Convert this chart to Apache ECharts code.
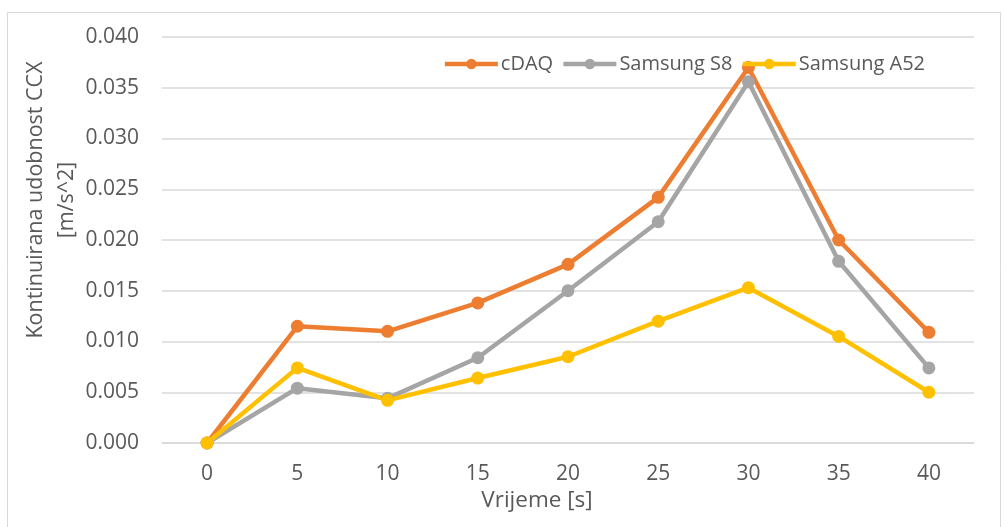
<!DOCTYPE html>
<html>
<head>
<meta charset="utf-8">
<script src="https://cdn.jsdelivr.net/npm/echarts@6/dist/echarts.min.js"></script>
<style>
  html, body { margin: 0; padding: 0; background: #fff; }
  #chart { width: 1006px; height: 527px; }
</style>
</head>
<body>
<div id="chart"></div>
<script>
// vrijeme [s]
const categories = ["0", "5", "10", "15", "20", "25", "30", "35", "40"];
const cdaq = [0, 0.0115, 0.0110, 0.0138, 0.0176, 0.0242, 0.0370, 0.0200, 0.0109];
const samsungS8 = [0, 0.0054, 0.0044, 0.0084, 0.0150, 0.0218, 0.0356, 0.0179, 0.0074];
const samsungA52 = [0, 0.0074, 0.0042, 0.0064, 0.0085, 0.0120, 0.0153, 0.0105, 0.0050];

const textColor = "#595959";
const font = "'Open Sans', 'Liberation Sans', sans-serif";

function lineSeries(name, data, color) {
  return {
    name: name,
    type: "line",
    data: data,
    symbol: "circle",
    symbolSize: 13,
    lineStyle: { width: 4.5, color: color },
    itemStyle: { color: color },
    emphasis: { disabled: true },
  };
}

const opt = {
  animation: false,
  textStyle: { fontFamily: font },
  color: ["#ED7D31", "#A5A5A5", "#FFC000"],
  grid: { left: 162, right: 32, top: 37, bottom: 84 },
  legend: {
    right: 76,
    top: 49,
    itemWidth: 53,
    itemHeight: 13,
    itemGap: 8,
    lineStyle: { width: 4.5 },
    textStyle: { color: textColor, fontSize: 20, fontFamily: font, padding: [0, 0, 0, -2] },
  },
  xAxis: {
    type: "category",
    data: categories,
    boundaryGap: true,
    axisLine: { lineStyle: { color: "#d9d9d9", width: 1.5 } },
    axisTick: { show: false },
    axisLabel: { color: textColor, fontSize: 21, margin: 21 },
  },
  yAxis: {
    type: "value",
    min: 0,
    max: 0.04,
    interval: 0.005,
    axisLine: { show: false },
    axisTick: { show: false },
    splitLine: { lineStyle: { color: "#d9d9d9", width: 1.5 } },
    axisLabel: {
      color: textColor,
      fontSize: 21,
      margin: 23,
      formatter: (v) => v.toFixed(3),
    },
  },
  graphic: [
    {
      type: "rect",
      shape: { x: 7.5, y: 12.5, width: 993, height: 530 },
      style: { fill: "none", stroke: "#d9d9d9", lineWidth: 1 },
      silent: true,
    },
    {
      type: "text",
      x: 51,
      y: 200,
      rotation: Math.PI / 2,
      style: {
        text: "Kontinuirana udobnost CCX\n[m/s^2]",
        fill: textColor,
        font: "21.5px " + font,
        align: "center",
        verticalAlign: "middle",
        lineHeight: 31,
      },
    },
    {
      type: "text",
      x: 537,
      y: 501,
      style: {
        text: "Vrijeme [s]",
        fill: textColor,
        font: "22.5px " + font,
        align: "center",
        verticalAlign: "middle",
      },
    },
  ],
  series: [
    lineSeries("cDAQ", cdaq, "#ED7D31"),
    lineSeries("Samsung S8", samsungS8, "#A5A5A5"),
    lineSeries("Samsung A52", samsungA52, "#FFC000"),
  ],
};

echarts.init(document.getElementById("chart")).setOption(opt);
</script>
</body>
</html>
